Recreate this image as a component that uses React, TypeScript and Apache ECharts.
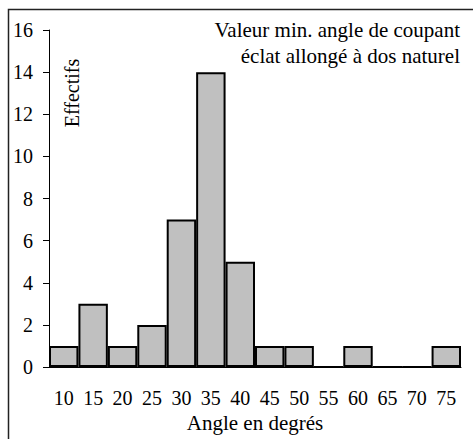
import React, { useEffect, useRef } from "react";
import * as echarts from "echarts";

const categories = ["10", "15", "20", "25", "30", "35", "40", "45", "50", "55", "60", "65", "70", "75"];
const counts = [1, 3, 1, 2, 7, 14, 5, 1, 1, 0, 1, 0, 0, 1];
const titleLines = ["Valeur min. angle de coupant", "éclat allongé à dos naturel"];
const yName = "Effectifs";
const xName = "Angle en degrés";

const FONT = "'Liberation Serif', 'Times New Roman', serif";

export default function App() {
  const ref = useRef<HTMLDivElement>(null);
  useEffect(() => {
    if (!ref.current) return;
    const chart = echarts.init(ref.current, null, { renderer: "svg" });
    chart.setOption({
      animation: false,
      backgroundColor: "#ffffff",
      grid: { left: 49, right: 12, top: 30, bottom: 72, containLabel: false },
      xAxis: {
        type: "category",
        data: categories,
        boundaryGap: true,
        name: xName,
        nameLocation: "middle",
        nameGap: 45,
        nameTextStyle: { fontFamily: FONT, fontSize: 21, color: "#000" },
        axisLine: { lineStyle: { color: "#000", width: 1 } },
        axisTick: { length: 6, lineStyle: { color: "#000" } },
        axisLabel: { fontFamily: FONT, fontSize: 20, color: "#000", margin: 21, interval: 0 },
        splitLine: { show: false },
      },
      yAxis: {
        type: "value",
        min: 0,
        max: 16,
        interval: 2,
        axisLine: { show: true, lineStyle: { color: "#000", width: 1 } },
        axisTick: { show: true, length: 6, lineStyle: { color: "#000" } },
        axisLabel: { fontFamily: FONT, fontSize: 20, color: "#000", margin: 16 },
        splitLine: { show: false },
      },
      series: [
        {
          type: "bar",
          data: counts,
          barCategoryGap: "0%",
          itemStyle: { color: "#c0c0c0", borderColor: "#000", borderWidth: 2 },
        },
      ],
      graphic: [
        {
          type: "polyline",
          shape: { points: [[8.5, 460], [8.5, 9.5], [480, 9.5]] },
          style: { stroke: "#222", lineWidth: 1.5, fill: "none" },
          silent: true,
        },
        {
          type: "text",
          x: 460,
          y: 17,
          style: {
            text: titleLines.join("\n"),
            fontFamily: FONT,
            fontSize: 21,
            lineHeight: 26,
            align: "right",
            verticalAlign: "top",
            fill: "#000",
          },
        },
        {
          type: "text",
          x: 72,
          y: 93,
          rotation: Math.PI / 2,
          style: {
            text: yName,
            fontFamily: FONT,
            fontSize: 20,
            align: "center",
            verticalAlign: "middle",
            fill: "#000",
          },
        },
      ],
    });
    return () => chart.dispose();
  }, []);
  return (
    <div
      ref={ref}
      style={{ position: "fixed", left: 0, top: 0, width: 473, height: 439 }}
    />
  );
}
